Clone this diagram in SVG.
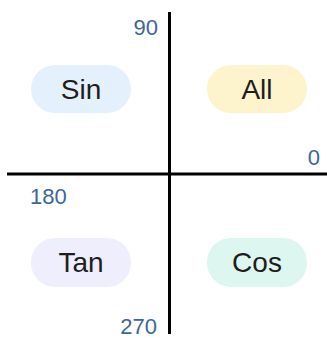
<svg xmlns="http://www.w3.org/2000/svg" width="327" height="338" viewBox="0 0 327 338">
<style>
.pill{stroke:none}
.nt{font-family:"Liberation Sans",Arial,sans-serif;font-size:28px;fill:#1e1e1e;text-anchor:middle}
.lb{font-family:"Liberation Sans",Arial,sans-serif;font-size:22px;fill:#3d6797}
.ax{stroke:#000;stroke-width:3;fill:none}
</style>
<rect width="327" height="338" fill="#fff"/>
<g id="connectors">
<line class="ax" x1="169.5" y1="12" x2="169.5" y2="334"/>
<line class="ax" x1="7" y1="174" x2="327" y2="174"/>
</g>
<g id="label-90"><text class="lb" x="158" y="35" text-anchor="end">90</text></g>
<g id="label-0"><text class="lb" x="320" y="165" text-anchor="end">0</text></g>
<g id="label-180"><text class="lb" x="30" y="204">180</text></g>
<g id="label-270"><text class="lb" x="157" y="334" text-anchor="end">270</text></g>
<g id="sin"><rect class="pill" x="31" y="65" width="100" height="48" rx="24" fill="#e4f1fd"/><text class="nt" x="81" y="99">Sin</text></g>
<g id="all"><rect class="pill" x="207" y="65" width="100" height="48" rx="24" fill="#fdf3cd"/><text class="nt" x="257" y="99">All</text></g>
<g id="tan"><rect class="pill" x="31" y="238" width="100" height="49" rx="24" fill="#eeeefd"/><text class="nt" x="81" y="272">Tan</text></g>
<g id="cos"><rect class="pill" x="207" y="238" width="100" height="49" rx="24" fill="#ddf6ef"/><text class="nt" x="257" y="272">Cos</text></g>
</svg>
